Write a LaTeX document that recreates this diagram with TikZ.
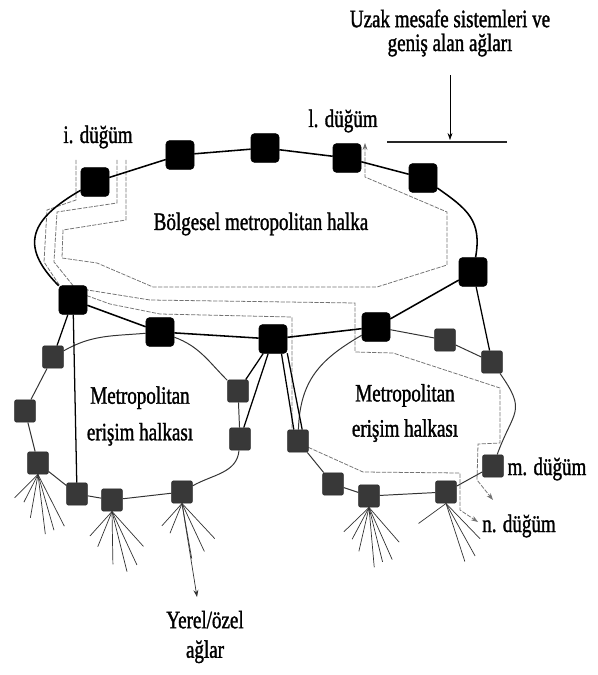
\documentclass[tikz,border=0pt]{standalone}
\usepackage{fontspec}
\setmainfont{Liberation Serif}[FakeStretch=0.76, FakeBold=1.3]
\usetikzlibrary{arrows.meta,backgrounds}
\tikzset{
  bignode/.style={draw, fill=black, rounded corners=2.5pt, minimum width=0.7cm, minimum height=0.72cm, inner sep=0pt},
  accnode/.style={draw=black!85, fill=black!78, rounded corners=1.5pt, minimum width=0.52cm, minimum height=0.56cm, inner sep=0pt},
  ring/.style={line width=1.1pt},
  accring/.style={line width=0.7pt, black!80},
  link/.style={line width=0.9pt},
  ray/.style={line width=0.5pt, black!80},
  lpath/.style={line width=0.55pt, black!55, dash pattern=on 3pt off 1pt},
  lbl/.style={font=\fontsize{17.8}{21}\selectfont, inner sep=0pt},
  tip/.style={-{Stealth[length=5pt,width=3.5pt]}}
}

\begin{document}
\begin{tikzpicture}[x=0.025cm, y=0.025cm]
  \useasboundingbox (0,0) rectangle (597,-675);
  % regional ring
  \node[bignode] (ri)  at (95,-182) {};
  \node[bignode] (r2)  at (180,-155) {};
  \node[bignode] (r3)  at (265,-148) {};
  \node[bignode] (rl)  at (347,-158) {};
  \node[bignode] (r5)  at (423,-178) {};
  \node[bignode] (r6)  at (473,-272) {};
  \node[bignode] (r7)  at (376,-327) {};
  \node[bignode] (r8)  at (273,-339) {};
  \node[bignode] (r9)  at (160,-332) {};
  \node[bignode] (r10) at (73,-300) {};
  % left access ring
  \node[accnode] (la1) at (53,-357) {};
  \node[accnode] (la2) at (25,-411) {};
  \node[accnode] (la3) at (38,-463) {};
  \node[accnode] (la4) at (77,-494) {};
  \node[accnode] (la5) at (112,-500) {};
  \node[accnode] (la6) at (182,-492) {};
  \node[accnode] (la7) at (238,-391) {};
  \node[accnode] (la8) at (240,-439) {};
  % right access ring
  \node[accnode] (ra1) at (298,-441) {};
  \node[accnode] (ra2) at (333,-484) {};
  \node[accnode] (ra3) at (369,-496) {};
  \node[accnode] (ra4) at (446,-492) {};
  \node[accnode] (ra5) at (493,-466) {};
  \node[accnode] (ra6) at (492,-362) {};
  \node[accnode] (ra7) at (445,-340) {};

  % labels
  \node[lbl, align=center] (wan) at (450,-33) {Uzak mesafe sistemleri ve\\[-4pt]geniş alan ağları};
  \node[lbl, anchor=base] (ilbl) at (98,-143) {i. düğüm};
  \node[lbl, anchor=base] (llbl) at (343,-127) {l. düğüm};
  \node[lbl, anchor=base] (rglbl) at (261,-230) {Bölgesel metropolitan halka};
  \node[lbl, align=center] (lalbl) at (140,-416) {Metropolitan\\[5pt]erişim halkası};
  \node[lbl, align=center] (ralbl) at (405,-413) {Metropolitan\\[4pt]erişim halkası};
  \node[lbl, anchor=base] (mlbl) at (547,-475) {m. düğüm};
  \node[lbl, anchor=base] (nlbl) at (519,-532) {n. düğüm};
  \node[lbl, align=center] (yerel) at (205,-637) {Yerel/özel\\ağlar};

  % WAN bar
  \coordinate (barL) at (387,-142);
  \coordinate (barR) at (507,-142);
  \coordinate (barin) at (450,-140);
  \draw[line width=1.6pt, black!85] (barL) -- (barR);
  \draw[thin, tip, shorten <=13pt] (wan) -- (barin);

  % rings
  \draw[ring] (ri) -- (r2) -- (r3) -- (rl) -- (r5);
  \draw[ring] (r5) to[out=-35, in=80, looseness=1.2] (r6) -- (r7) -- (r8) -- (r9) -- (r10);
  \draw[ring] (r10) to[out=135, in=-150, looseness=1.5] (ri);
  \draw[accring] (r9) to[out=-20, in=135] (la7) -- (la8) to[out=-95, in=30] (la6)
    -- (la5) -- (la4) -- (la3) -- (la2) -- (la1) to[out=30, in=185] (r9);
  \draw[accring] (r7) -- (ra7) -- (ra6) to[out=-55, in=70, looseness=1.5] (ra5) -- (ra4) -- (ra3)
    -- (ra2) -- (ra1) to[out=88, in=-150, looseness=1.1] (r7);

  % links between rings
  \draw[link] (r10) -- (la1);
  \draw[link] (r10) -- (la4);
  \draw[link] (r8) -- (la7);
  \draw[link] (r8) -- (la8);
  \draw[link] (r8.-60) -- (ra1.110);
  \draw[link] (r8.-45) -- (ra1.70);
  \draw[link] (r6) -- (ra6);

  % local networks
  \foreach \a/\r in {-135/33,-117/31,-100/44,-83/60,-74/58,-63/58}
    \draw[ray] (la3.south) -- +(\a:\r);
  \foreach \a/\r in {-132/33,-112/38,-89/53,-76/62,-65/59,-48/47}
    \draw[ray] (la5.south) -- +(\a:\r);
  \foreach \a/\r in {-132/30,-112/32,-80/56,-65/53,-47/48}
    \draw[ray] (la6.south) -- +(\a:\r);
  \foreach \a/\r in {-136/35,-118/36,-103/45,-85/60,-76/56,-66/57,-49/46}
    \draw[ray] (ra3.south) -- +(\a:\r);
  \foreach \a/\r in {-144/34,-72/61,-61/60,-46/49}
    \draw[ray] (ra4.south) -- +(\a:\r);
  \coordinate (yarrow) at (197,-597);
  \draw[ray, tip] (la6.south) -- (yarrow);

  % lightpaths from i. dugum
  \coordinate (lp1) at (126,-160);
  \coordinate (lp2) at (117,-160);
  \coordinate (lp3) at (76,-160);
  \coordinate (lp1end) at (365,-143);
  \coordinate (lp2end) at (493,-500);
  \coordinate (lp3end) at (478,-522);
  \begin{pgfonlayer}{background}
    \draw[lpath, tip] (lp1) -- (126,-220) -- (63,-230) -- (62,-258) -- (97,-263) -- (153,-287)
      -- (377,-287) -- (447,-265) -- (447,-212) -- (365,-177) -- (lp1end);
    \draw[lpath, tip] (lp2) -- (117,-203) -- (57,-212) -- (54,-262) -- (75,-288) -- (150,-300)
      -- (355,-303) -- (355,-352) -- (393,-353) -- (500,-388) -- (500,-443) -- (478,-444)
      -- (477,-480) -- (lp2end);
    \draw[lpath, tip] (lp3) -- (76,-200) -- (47,-210) -- (44,-262) -- (60,-286) -- (110,-304)
      -- (160,-314) -- (292,-317) -- (292,-440) -- (363,-472) -- (460,-473) -- (460,-510)
      -- (lp3end);
  \end{pgfonlayer}
\end{tikzpicture}
\end{document}
